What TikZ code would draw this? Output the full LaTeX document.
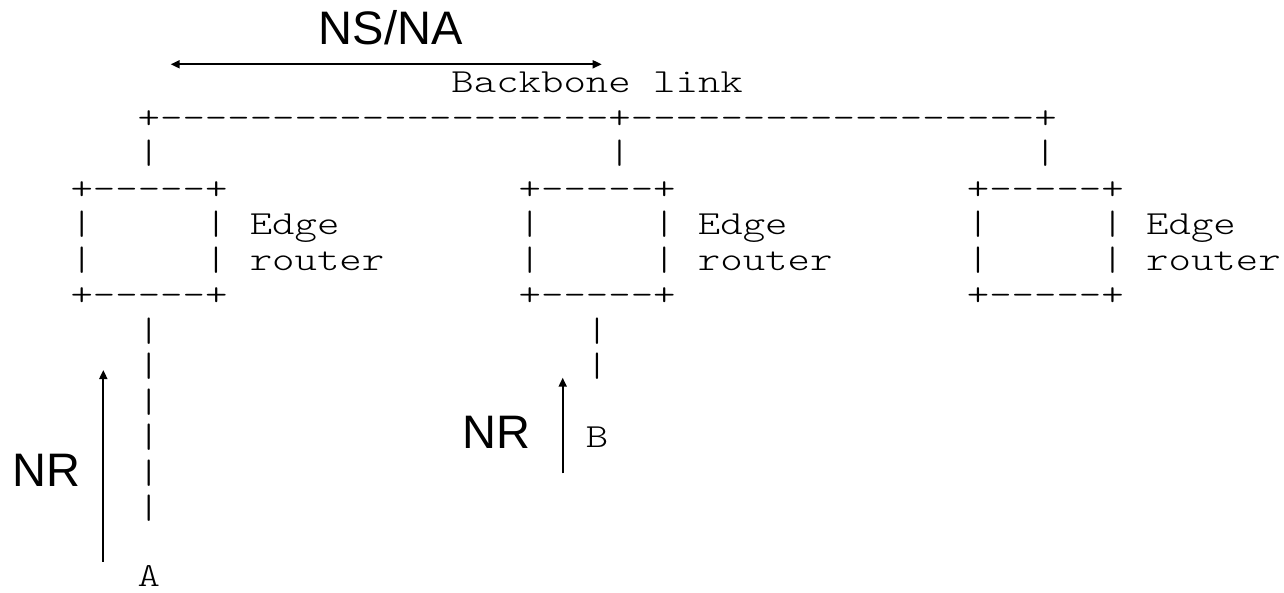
\documentclass[tikz,border=0pt]{standalone}
\usepackage{fontspec}
\setmonofont{Latin Modern Mono Light}[FakeStretch=1.267]
\setsansfont{Liberation Sans}
\usetikzlibrary{arrows.meta}

% one character cell of the monospaced sketch: 22.41 wide, rows 35.5 apart
\newcommand\asciiat[4]{\node[ascii] (#1) at ({70.5+22.41*(#2)},{92.7+35.5*(#3)}) {#4};}

\tikzset{
  ascii/.style={font=\ttfamily\fontsize{33.7}{35.5}\selectfont,
                anchor=base west, inner sep=0pt, outer sep=0pt},
  biglabel/.style={font=\sffamily\fontsize{47}{47}\selectfont,
                anchor=base, inner sep=0pt},
  tipshape/.tip={Triangle[length=9pt,width=8pt]},
  flow/.style={line width=1.8pt, -tipshape},
  bothways/.style={line width=1.8pt, tipshape-tipshape},
}

\begin{document}
\begin{tikzpicture}[x=1pt,y=-1pt]
\useasboundingbox (0,0) rectangle (1284,593);

% backbone
\asciiat{bblabel}{17}{0}{Backbone link}
\asciiat{bbline}{3}{1}{+--------------------+------------------+}
\asciiat{upA}{3}{2}{|}
\asciiat{upB}{24}{2}{|}
\asciiat{upC}{43}{2}{|}

% edge router boxes
\foreach \nm/\c in {rA/0, rB/20, rC/40}{
  \asciiat{\nm top}{\c}{3}{+-----+}
  \asciiat{\nm l1}{\c}{4}{|}
  \asciiat{\nm r1}{\c+6}{4}{|}
  \asciiat{\nm t1}{\c+8}{4}{Edge}
  \asciiat{\nm l2}{\c}{5}{|}
  \asciiat{\nm r2}{\c+6}{5}{|}
  \asciiat{\nm t2}{\c+8}{5}{router}
  \asciiat{\nm bot}{\c}{6}{+-----+}
}

% access lines down to the hosts
\foreach \r in {7,...,12}{ \asciiat{dA\r}{3}{\r}{|} }
\asciiat{dB7}{23}{7}{|}
\asciiat{dB8}{23}{8}{|}
\node[ascii] (hostA) at ({70.5+22.41*3},586) {A};
\asciiat{hostB}{23}{10}{B}

% message scopes
\node[biglabel] (nsna) at (390.7,45) {NS/NA};
\coordinate (nsL) at (170.7,64.3);
\coordinate (nsR) at (601.7,64.3);
\draw[bothways] (nsL) -- (nsR);

\node[biglabel] (nrA) at (46.5,486) {NR};
\coordinate (nrAfrom) at (103.3,561.7);
\coordinate (nrAto) at (103.3,370);
\draw[flow] (nrAfrom) -- (nrAto);

\node[biglabel] (nrB) at (496.5,448.3) {NR};
\coordinate (nrBfrom) at (562.7,473.3);
\coordinate (nrBto) at (562.7,377.7);
\draw[flow] (nrBfrom) -- (nrBto);
\end{tikzpicture}
\end{document}
